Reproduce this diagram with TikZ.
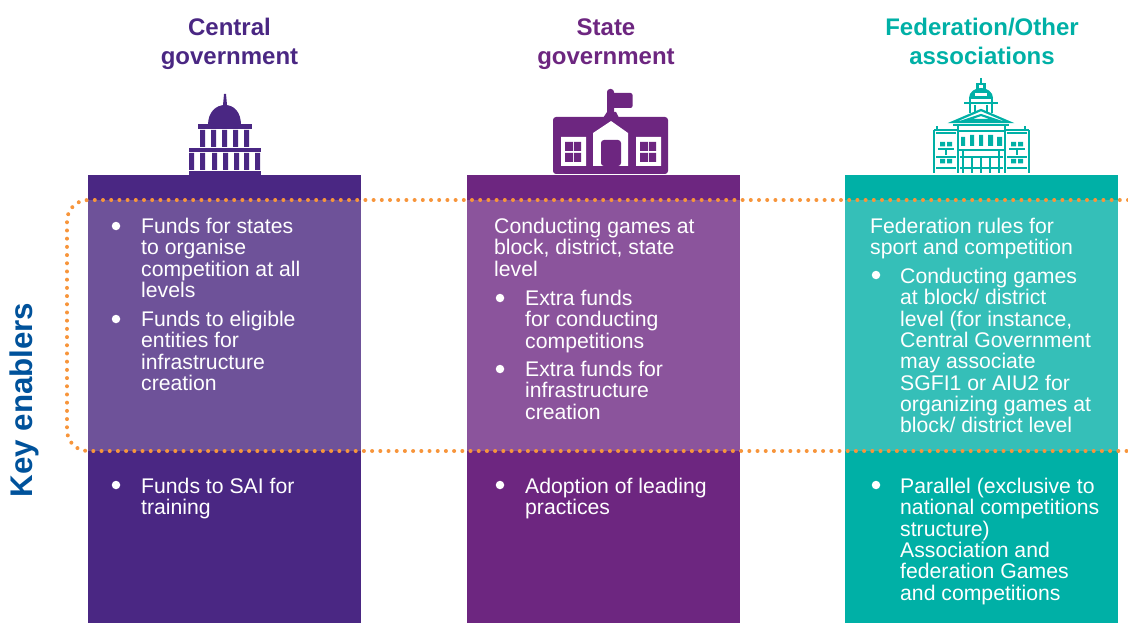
\documentclass[tikz,border=0pt]{standalone}
\usepackage{fontspec}
\setmainfont{Liberation Sans}
\definecolor{purpleA}{HTML}{4A2783}
\definecolor{purpleB}{HTML}{6D2680}
\definecolor{tealC}{HTML}{00B0A6}
\definecolor{purpleAlight}{HTML}{6E5299}
\definecolor{purpleBlight}{HTML}{8B549C}
\definecolor{tealClight}{HTML}{35BFB8}
\definecolor{keyblue}{HTML}{00529B}
\definecolor{dotorange}{HTML}{F7953B}
\tikzset{
  bodytext/.style={anchor=north west,inner sep=0pt,align=left,text=white,font=\fontsize{21.2}{21.3}\selectfont},
  headtext/.style={inner sep=0pt,align=center,font=\fontsize{24}{29}\selectfont\bfseries},
  bulletdot/.style={circle,fill=white,inner sep=0pt,minimum size=8.5pt}
}
\begin{document}
\begin{tikzpicture}[x=1pt,y=-1pt]
\useasboundingbox (0,0) rectangle (1128,623);

\fill[purpleA] (88,175) rectangle (361,623);
\fill[purpleB] (467,175) rectangle (740,623);
\fill[tealC] (845,175) rectangle (1118,623);
\fill[purpleAlight] (88,200) rectangle (361,451);
\fill[purpleBlight] (467,200) rectangle (740,451);
\fill[tealClight] (845,200) rectangle (1118,451);

\draw[dotorange, line width=4pt, line cap=round, dash pattern=on 0pt off 8.2pt, rounded corners=21pt]
  (1128,200) -- (67,200) -- (67,451) -- (1128,451);

\node[headtext, text=purpleA] (headA) at (229.5,43.5) {Central\\government};
\node[headtext, text=purpleB] (headB) at (606,44.5) {State\\government};
\node[headtext, text=tealC] (headC) at (982,41.5) {Federation/Other\\associations};
\node[rotate=90, inner sep=0pt, text=keyblue, font=\fontsize{31.3}{34}\selectfont\bfseries] (keylabel) at (24,400) {Key enablers};

\fill[purpleA] (224,94) -- (226,94) -- (227,105) -- (223,105) -- cycle;
\fill[purpleA] (208,125) .. controls (208,112) and (216,105) .. (225,105) .. controls (234,105) and (241,112) .. (241,125) -- cycle;
\fill[purpleA] (198,124) rectangle (252,129);
\fill[purpleA] (200,130) rectangle (205,147) (211,130) rectangle (216,147) (222,130) rectangle (227,147) (233,130) rectangle (238,147) (244,130) rectangle (249,147);
\fill[purpleA] (189,148) rectangle (261,152);
\fill[purpleA] (189,153) rectangle (194,170) (200,153) rectangle (205,170) (212,153) rectangle (217,170) (223,153) rectangle (228,170) (234,153) rectangle (239,170) (244,153) rectangle (249,170) (255,153) rectangle (260,170);
\fill[purpleA] (189,171) rectangle (261,175);

\fill[purpleB, rounded corners=3pt] (553,117) rectangle (668,174);
\fill[purpleB, rounded corners=3pt] (607,89) rectangle (614,118);
\fill[purpleB, rounded corners=2pt] (610,93) rectangle (632.5,108);
\fill[purpleB] (603,118) -- (607,112) -- (616,112) -- (619,118) -- cycle;
\fill[white] (593,133) -- (611,121) -- (628,133) -- (628,166) -- (593,166) -- cycle;
\fill[purpleB, rounded corners=3pt] (601,166) -- (601,140) -- (621,140) -- (621,166) -- cycle;
\fill[white] (561,137) rectangle (586,166) (636,137) rectangle (661,166);
\fill[purpleB] (565,142) rectangle (573,151) (574,142) rectangle (581,151) (565,153) rectangle (573,162) (574,153) rectangle (581,162);
\fill[purpleB] (640,142) rectangle (648,151) (649,142) rectangle (656,151) (640,153) rectangle (648,162) (649,153) rectangle (656,162);

\begin{scope}[tealC, line width=2.2pt]
\draw (981,78) -- (981,84);
\draw (977.5,84) rectangle (984.5,90);
\fill (969,98) .. controls (969,92) and (975,88) .. (981,88) .. controls (987,88) and (993,92) .. (993,98) -- cycle;
\fill[white] (975,93) rectangle (987,96);
\draw (964,103) -- (998,103);
\draw (970,98) -- (992,98);
\draw (970,98) -- (970,113) (992,98) -- (992,113) (975,105) -- (975,113) (987,105) -- (987,113);
\draw (953,122) -- (981,110) -- (1009,122) -- cycle;
\draw (966,120) -- (981,115) -- (996,120) -- cycle;
\draw (953,125) -- (1009,125);
\draw (958,125) -- (958,173) (1005,125) -- (1005,173);
\draw (934,173) -- (934,130) (1029,173) -- (1029,130);
\draw (934,130) -- (958,130) (1005,130) -- (1029,130);
\draw (936,133) -- (956,133) (1007,133) -- (1027,133);
\draw (936,157) -- (956,157) (1007,157) -- (1027,157);
\draw (936,168) -- (956,168) (1007,168) -- (1027,168);
\draw (937,130) -- (937,126) (1025,130) -- (1025,126);
\draw (958,131) -- (1005,131);
\fill (961,137) rectangle (965,146) (970,135) rectangle (974,146) (979,135) rectangle (983,146) (988,135) rectangle (993,146) (997,137) rectangle (1002,146);
\draw (958,150) -- (1005,150);
\draw (960,157) -- (1003,157) (960,168) -- (1003,168);
\draw (963,150) -- (963,173) (972,157) -- (972,173) (981,157) -- (981,173) (990,157) -- (990,173) (999,150) -- (999,173);
\fill (940,142) rectangle (945,146.5) (947,142) rectangle (952,146.5) (1011,142) rectangle (1016,146.5) (1018,142) rectangle (1023,146.5);
\fill (940,159) rectangle (945,163.5) (947,159) rectangle (952,163.5) (1011,159) rectangle (1016,163.5) (1018,159) rectangle (1023,163.5);
\draw (938,149) -- (954,149) (1009,149) -- (1025,149);
\draw (946,149) -- (946,155) (1017,149) -- (1017,155);
\end{scope}

\node[bulletdot] (bulA1) at (116,226) {};
\node[bodytext] (textA1) at (141,218) {Funds for states\\to organise\\competition at all\\levels};
\node[bulletdot] (bulA2) at (116,319) {};
\node[bodytext] (textA2) at (141,311) {Funds to eligible\\entities for\\infrastructure\\creation};
\node[bulletdot] (bulA3) at (116,485) {};
\node[bodytext] (textA3) at (141,478) {Funds to SAI for\\training};

\node[bodytext] (textB0) at (494,218) {Conducting games at\\block, district, state\\level};
\node[bulletdot] (bulB1) at (500,298) {};
\node[bodytext] (textB1) at (525,290) {Extra funds\\for conducting\\competitions};
\node[bulletdot] (bulB2) at (500,369) {};
\node[bodytext] (textB2) at (525,361) {Extra funds for\\infrastructure\\creation};
\node[bulletdot] (bulB3) at (500,485) {};
\node[bodytext] (textB3) at (525,478) {Adoption of leading\\practices};

\node[bodytext] (textC0) at (870,218) {Federation rules for\\sport and competition};
\node[bulletdot] (bulC1) at (876,275) {};
\node[bodytext] (textC1) at (900,268) {Conducting games\\at block/ district\\level (for instance,\\Central Government\\may associate\\SGFI1 or AIU2 for\\organizing games at\\block/ district level};
\node[bulletdot] (bulC2) at (876,485) {};
\node[bodytext] (textC2) at (900,478) {Parallel (exclusive to\\national competitions\\structure)\\Association and\\federation Games\\and competitions};
\end{tikzpicture}
\end{document}
